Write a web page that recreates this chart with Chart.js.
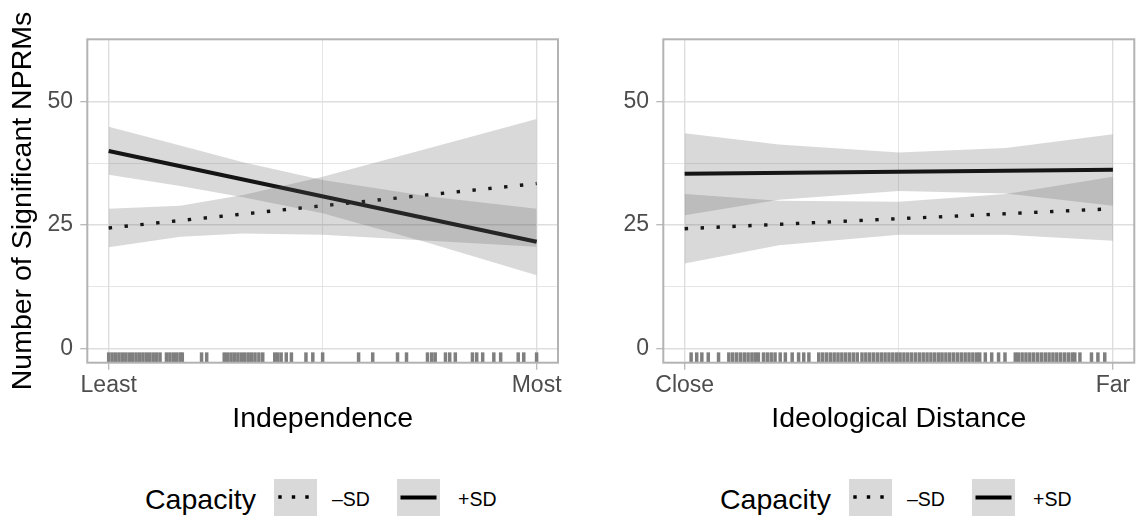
<!DOCTYPE html>
<html><head><meta charset="utf-8">
<script src="https://cdn.jsdelivr.net/npm/chart.js@4.4.0/dist/chart.umd.min.js"></script>
<style>
html,body{margin:0;padding:0;background:#fff;}
body{width:1139px;height:522px;position:relative;overflow:hidden;font-family:"Liberation Sans",Arial,sans-serif;}
.cw{position:absolute;top:0;height:450px;}
.lg{position:absolute;white-space:nowrap;line-height:1;color:#000;}
.key{position:absolute;}
</style></head><body>
<div class="cw" style="left:0;width:575px"><canvas id="c1" width="575" height="450"></canvas></div>
<div class="cw" style="left:575px;width:564px"><canvas id="c2" width="564" height="450"></canvas></div>
<div id="legends"></div>
<script>
// ---------- data ----------
const xTickValues = [0, 0.5, 1];
const xTickLabelsL = ["Least", "", "Most"];
const xTickLabelsR = ["Close", "", "Far"];
const yTickValues = [0, 12.5, 25, 37.5, 50];
const yTickLabels = ["0", "", "25", "", "50"];

const lineX = [0, 1];
// Panel 1: Independence
const indepLowSD = [24.4, 33.4];
const indepHighSD = [40.0, 21.6];
const indepBandX = [0, 0.167, 0.314, 0.5, 0.75, 1];
const indepLowSDUpper = [28.3, 28.9, 31.1, 34.8, 40.6, 46.5];
const indepLowSDLower = [20.5, 22.6, 23.3, 23.0, 21.8, 20.6];
const indepHighSDUpper = [44.9, 41.1, 37.7, 34.1, 30.8, 28.3];
const indepHighSDLower = [35.2, 32.9, 30.6, 27.4, 21.3, 14.8];
const indepRug = [0, 0.008, 0.016, 0.024, 0.032, 0.04, 0.048, 0.056, 0.064, 0.072, 0.08, 0.088, 0.096, 0.104, 0.112, 0.12,
  0.135, 0.143, 0.151, 0.159, 0.167, 0.172, 0.217, 0.229,
  0.27, 0.278, 0.286, 0.294, 0.302, 0.31, 0.318, 0.326, 0.334, 0.342, 0.351, 0.36,
  0.388, 0.395, 0.403, 0.415, 0.427, 0.461, 0.477, 0.5,
  0.584, 0.617, 0.675, 0.696, 0.745, 0.755, 0.763, 0.787, 0.797, 0.81, 0.85, 0.86, 0.874, 0.9, 0.916, 0.957, 0.97, 1.0];

// Panel 2: Ideological Distance
const ideoLowSD = [24.25, 28.3];
const ideoHighSD = [35.4, 36.2];
const ideoBandX = [0, 0.22, 0.5, 0.75, 1];
const ideoLowSDUpper = [31.3, 29.9, 29.7, 31.3, 34.8];
const ideoLowSDLower = [17.2, 20.9, 23.0, 23.0, 21.8];
const ideoHighSDUpper = [43.6, 41.3, 39.7, 40.6, 43.4];
const ideoHighSDLower = [27.0, 30.1, 31.9, 31.4, 28.9];
const ideoRug = [0.015, 0.028, 0.04, 0.055, 0.079,
  0.103, 0.112, 0.121, 0.13, 0.139, 0.148, 0.157, 0.165, 0.172,
  0.184, 0.193, 0.202, 0.211, 0.223, 0.235, 0.251, 0.266, 0.278, 0.29,
  0.313, 0.322, 0.331, 0.34, 0.349, 0.358, 0.367, 0.376, 0.385, 0.394, 0.403,
  0.414, 0.423, 0.432, 0.441, 0.45, 0.459, 0.468, 0.477, 0.486, 0.495, 0.503,
  0.512, 0.521, 0.53, 0.539, 0.548, 0.557, 0.566, 0.575, 0.584, 0.593,
  0.601, 0.61, 0.619, 0.628, 0.637, 0.646, 0.655, 0.664, 0.673, 0.682, 0.689,
  0.702, 0.717, 0.733, 0.748, 0.772,
  0.779, 0.788, 0.797, 0.806, 0.815, 0.824, 0.833, 0.842, 0.851, 0.86, 0.869, 0.878, 0.887, 0.896, 0.905, 0.911,
  0.923, 0.95, 0.965, 0.981];

const legendTitle = "Capacity";
const seriesNames = ["–SD", "+SD"];

// ---------- styling ----------
const FONT = '"Liberation Sans", Arial, sans-serif';
Chart.defaults.font.family = FONT;
const BAND = 'rgba(90,90,90,0.23)';
const GRID = '#dedede';
const FRAME = '#b3b3b3';

const panelPlugin = {
  id: 'panel',
  afterDatasetsDraw(chart, args, opts) {
    const {ctx, chartArea: a, scales: {x}} = chart;
    ctx.save();
    ctx.strokeStyle = '#7f7f7f';
    ctx.lineWidth = 3.5;
    const h = (a.bottom - a.top) * 0.032;
    for (const v of opts.rug) {
      const px = x.getPixelForValue(v);
      ctx.beginPath(); ctx.moveTo(px, a.bottom); ctx.lineTo(px, a.bottom - h); ctx.stroke();
    }
    ctx.strokeStyle = FRAME; ctx.lineWidth = 2;
    ctx.strokeRect(a.left, a.top, a.right - a.left, a.bottom - a.top);
    ctx.restore();
  }
};

function pts(xs, ys) { return xs.map((x, i) => ({x: x, y: ys[i]})); }

function makeChart(id, cfg) {
  const datasets = [
    {data: pts(cfg.bandX, cfg.lowUp), fill: '+1', backgroundColor: BAND, borderColor: 'rgba(0,0,0,0)', borderWidth: 0, pointRadius: 0},
    {data: pts(cfg.bandX, cfg.lowLo), fill: false, borderColor: 'rgba(0,0,0,0)', borderWidth: 0, pointRadius: 0},
    {data: pts(cfg.bandX, cfg.highUp), fill: '+1', backgroundColor: BAND, borderColor: 'rgba(0,0,0,0)', borderWidth: 0, pointRadius: 0},
    {data: pts(cfg.bandX, cfg.highLo), fill: false, borderColor: 'rgba(0,0,0,0)', borderWidth: 0, pointRadius: 0},
    {label: seriesNames[0], data: pts(lineX, cfg.low), fill: false, borderColor: '#000', borderWidth: 3.4, borderDash: [3.4, 12.5], borderCapStyle: 'butt', pointRadius: 0},
    {label: seriesNames[1], data: pts(lineX, cfg.high), fill: false, borderColor: '#000', borderWidth: 3.9, pointRadius: 0}
  ];
  return new Chart(document.getElementById(id), {
    type: 'line',
    data: {datasets},
    plugins: [panelPlugin],
    options: {
      responsive: false, animation: false,
      layout: {padding: {top: 39.3, left: 0, right: cfg.padRight, bottom: 0}},
      plugins: {legend: {display: false}, tooltip: {enabled: false}, panel: {rug: cfg.rug}},
      scales: {
        x: {
          type: 'linear', min: -0.05, max: 1.05,
          afterBuildTicks: s => { s.ticks = xTickValues.map(v => ({value: v})); },
          afterFit: s => { s.height = 87.3; },
          border: {display: false},
          grid: {
            color: GRID,
            lineWidth: c => (c.tick && c.tick.value === 0.5) ? 0.8 : 1.4,
            tickLength: 7, tickWidth: 1.2,
            tickColor: c => (c.tick && c.tick.value === 0.5) ? 'rgba(0,0,0,0)' : FRAME
          },
          ticks: {
            autoSkip: false, maxRotation: 0, padding: 2, color: '#4d4d4d', font: {size: 23},
            callback: (v, i) => cfg.xLabels[i]
          },
          title: {display: true, text: cfg.xTitle, color: '#000', font: {size: 28.5}, padding: {top: 0, bottom: 14}}
        },
        y: {
          type: 'linear', min: -2.92, max: 62.65,
          afterBuildTicks: s => { s.ticks = yTickValues.map(v => ({value: v})); },
          afterFit: s => { s.width = cfg.yWidth; },
          border: {display: false},
          grid: {
            color: GRID,
            lineWidth: c => (c.tick && c.tick.value % 25 !== 0) ? 0.8 : 1.4,
            tickLength: 7, tickWidth: 1.2,
            tickColor: c => (c.tick && c.tick.value % 25 !== 0) ? 'rgba(0,0,0,0)' : FRAME
          },
          ticks: {
            autoSkip: false, padding: 7.3, color: '#4d4d4d', font: {size: 23},
            callback: (v, i) => yTickLabels[i]
          },
          title: {display: cfg.yTitle !== '', text: cfg.yTitle, color: '#000', font: {size: 28.5}, padding: {top: 6, bottom: 0}}
        }
      }
    }
  });
}

makeChart('c1', {
  bandX: indepBandX, lowUp: indepLowSDUpper, lowLo: indepLowSDLower, highUp: indepHighSDUpper, highLo: indepHighSDLower,
  low: indepLowSD, high: indepHighSD, rug: indepRug, xLabels: xTickLabelsL, xTitle: 'Independence',
  yTitle: 'Number of Significant NPRMs', yWidth: 87.3, padRight: 17
});
makeChart('c2', {
  bandX: ideoBandX, lowUp: ideoLowSDUpper, lowLo: ideoLowSDLower, highUp: ideoHighSDUpper, highLo: ideoHighSDLower,
  low: ideoLowSD, high: ideoHighSD, rug: ideoRug, xLabels: xTickLabelsR, xTitle: 'Ideological Distance',
  yTitle: '', yWidth: 88.3, padRight: 4.7
});

// ---------- legends (HTML) ----------
function legendHTML(off) {
  return `<span class="lg" style="left:${145 + off}px;top:485px;font-size:28.5px">${legendTitle}</span>
  <svg class="key" style="left:${274 + off}px;top:479px" width="43" height="37"><rect width="43" height="37" fill="#d9d9d9"/><line x1="4.3" y1="18" x2="38" y2="18" stroke="#000" stroke-width="3.4" stroke-dasharray="3.4 10.1"/></svg>
  <span class="lg" style="left:${332 + off}px;top:489.5px;font-size:19.5px">${seriesNames[0]}</span>
  <svg class="key" style="left:${397 + off}px;top:479px" width="43" height="37"><rect width="43" height="37" fill="#d9d9d9"/><line x1="3.5" y1="18.5" x2="39.5" y2="18.5" stroke="#000" stroke-width="3.9"/></svg>
  <span class="lg" style="left:${458 + off}px;top:489.5px;font-size:19.5px">${seriesNames[1]}</span>`;
}
document.getElementById('legends').innerHTML = legendHTML(0) + legendHTML(575);
</script>
</body></html>
